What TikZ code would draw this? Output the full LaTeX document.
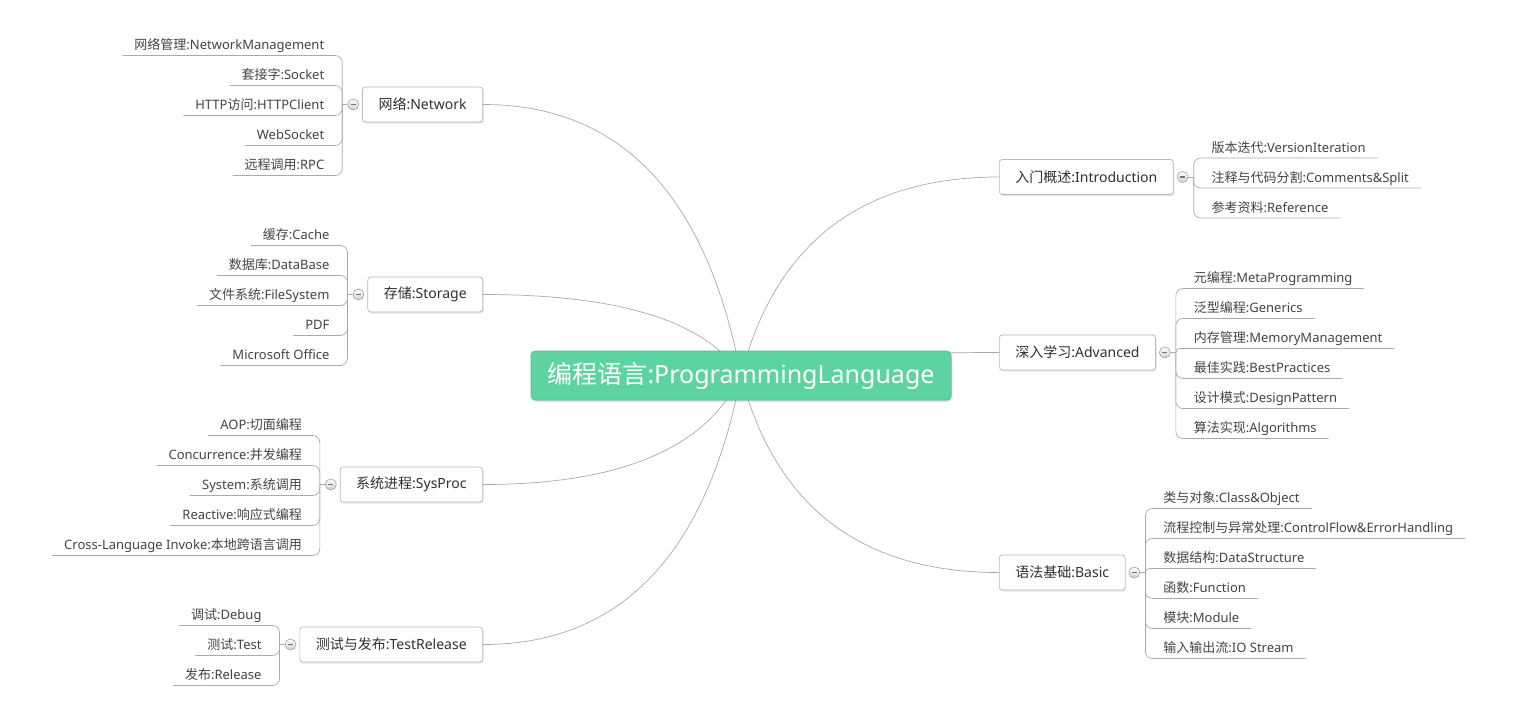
\documentclass[tikz,border=0pt]{standalone}
\usepackage{fontspec}
\setmainfont{Noto Sans}
\newfontfamily\cjk{Noto Sans CJK SC}
\usetikzlibrary{shadows,backgrounds,calc}
\newcommand\zh[1]{{\cjk #1}}
\newcommand\minussign{\rule{5pt}{1.3pt}}
\newdimen\brX
\definecolor{rootgreen}{HTML}{5DD39F}
\definecolor{rootborder}{HTML}{50C08F}
\definecolor{boxgray}{HTML}{B8B8B8}
\definecolor{linegray}{HTML}{AAAAAA}
\definecolor{leaftext}{HTML}{444444}
\definecolor{branchtext}{HTML}{303030}
\definecolor{circgray}{HTML}{A0A0A0}
\tikzset{
  rootbox/.style={rectangle, rounded corners=4pt, fill=rootgreen, draw=rootborder, line width=0.6pt,
    minimum width=420pt, minimum height=49pt, text=white, font=\fontsize{25}{29}\selectfont,
    drop shadow={shadow xshift=1pt, shadow yshift=-1.5pt, opacity=0.3}},
  branchbox/.style={rectangle, rounded corners=3pt, fill=white, draw=boxgray, line width=0.7pt,
    minimum height=35pt, inner xsep=16pt, font=\fontsize{14}{16}\selectfont, text=branchtext,
    drop shadow={shadow xshift=1pt, shadow yshift=-1.5pt, opacity=0.2}},
  collapsebtn/.style={circle, minimum size=11pt, inner sep=0pt, draw=circgray, line width=0.6pt,
    top color=white, bottom color=black!18, text=black!55},
  leafnode/.style={inner xsep=12pt, inner ysep=6pt, text height=10pt, text depth=0pt, outer sep=0pt,
    font=\fontsize{13}{15}\selectfont, text=leaftext},
  conn/.style={draw=linegray, line width=0.7pt},
}
% left branch: #1 name, #2 centre y, #3 label, #4 number of leaves, #5 leaves
\newcommand\BranchL[5]{%
  \node[branchbox, anchor=east] (#1) at (483,#2) {#3};
  \node[collapsebtn] (#1c) at ([xshift=-9pt]#1.west) {\minussign};
  \pgfextractx{\brX}{\pgfpointanchor{#1c}{center}}%
  \pgfmathsetmacro\tx{\brX-11}%
  \coordinate (#1t) at (\tx,#2);
  \draw[conn] (#1c.west) -- (#1t);
  \foreach \l [count=\i] in {#5} {
    \pgfmathsetmacro\ly{#2+11+30*(\i-(#4+1)/2)}
    \pgfmathsetmacro\rr{min(7,abs(\ly-#2))}
    \node[leafnode, anchor=south east] (#1-\i) at (\tx-6,\ly) {\l};
    \draw[conn, rounded corners=\rr pt] (#1t) -- (\tx,\ly) -- (#1-\i.south west);
  }
}
% right branch
\newcommand\BranchR[5]{%
  \node[branchbox, anchor=west] (#1) at (999,#2) {#3};
  \node[collapsebtn] (#1c) at ([xshift=9pt]#1.east) {\minussign};
  \pgfextractx{\brX}{\pgfpointanchor{#1c}{center}}%
  \pgfmathsetmacro\tx{\brX+11}%
  \coordinate (#1t) at (\tx,#2);
  \draw[conn] (#1c.east) -- (#1t);
  \foreach \l [count=\i] in {#5} {
    \pgfmathsetmacro\ly{#2+11+30*(\i-(#4+1)/2)}
    \pgfmathsetmacro\rr{min(7,abs(\ly-#2))}
    \node[leafnode, anchor=south west] (#1-\i) at (\tx+6,\ly) {\l};
    \draw[conn, rounded corners=\rr pt] (#1t) -- (\tx,\ly) -- (#1-\i.south east);
  }
}
\begin{document}
\begin{tikzpicture}[x=1pt, y=-1pt]
\useasboundingbox (0,0) rectangle (1516,720);
\node[rootbox] (root) at (741,375.5) {\zh{编程语言}:ProgrammingLanguage};

\BranchL{net}{104.5}{\zh{网络}:Network}{5}{{\zh{网络管理}:NetworkManagement},{\zh{套接字}:Socket},{HTTP\zh{访问}:HTTPClient},{WebSocket},{\zh{远程调用}:RPC}}
\BranchL{sto}{294.5}{\zh{存储}:Storage}{5}{{\zh{缓存}:Cache},{\zh{数据库}:DataBase},{\zh{文件系统}:FileSystem},{PDF},{Microsoft Office}}
\BranchL{sys}{484.5}{\zh{系统进程}:SysProc}{5}{{AOP:\zh{切面编程}},{Concurrence:\zh{并发编程}},{System:\zh{系统调用}},{Reactive:\zh{响应式编程}},{Cross-Language Invoke:\zh{本地跨语言调用}}}
\BranchL{tst}{644.5}{\zh{测试与发布}:TestRelease}{3}{{\zh{调试}:Debug},{\zh{测试}:Test},{\zh{发布}:Release}}

\BranchR{intro}{177}{\zh{入门概述}:Introduction}{3}{{\zh{版本迭代}:VersionIteration},{\zh{注释与代码分割}:Comments\&Split},{\zh{参考资料}:Reference}}
\BranchR{adv}{352.5}{\zh{深入学习}:Advanced}{6}{{\zh{元编程}:MetaProgramming},{\zh{泛型编程}:Generics},{\zh{内存管理}:MemoryManagement},{\zh{最佳实践}:BestPractices},{\zh{设计模式}:DesignPattern},{\zh{算法实现}:Algorithms}}
\BranchR{bas}{572.5}{\zh{语法基础}:Basic}{6}{{\zh{类与对象}:Class\&Object},{\zh{流程控制与异常处理}:ControlFlow\&ErrorHandling},{\zh{数据结构}:DataStructure},{\zh{函数}:Function},{\zh{模块}:Module},{\zh{输入输出流}:IO Stream}}

\begin{scope}[on background layer]
  \fill[white] (0,0) rectangle (1516,720);
  \foreach \b in {net,sto,sys,tst} {
    \coordinate (q\b) at ($(root.center |- \b.east)!0.2!(\b.east)$);
    \draw[conn] (root.center) .. controls ($(root.center)!0.6667!(q\b)$) and ($(\b.east)!0.6667!(q\b)$) .. (\b.east);
  }
  \foreach \b in {intro,adv,bas} {
    \coordinate (q\b) at ($(root.center |- \b.west)!0.2!(\b.west)$);
    \draw[conn] (root.center) .. controls ($(root.center)!0.6667!(q\b)$) and ($(\b.west)!0.6667!(q\b)$) .. (\b.west);
  }
\end{scope}
\end{tikzpicture}
\end{document}
